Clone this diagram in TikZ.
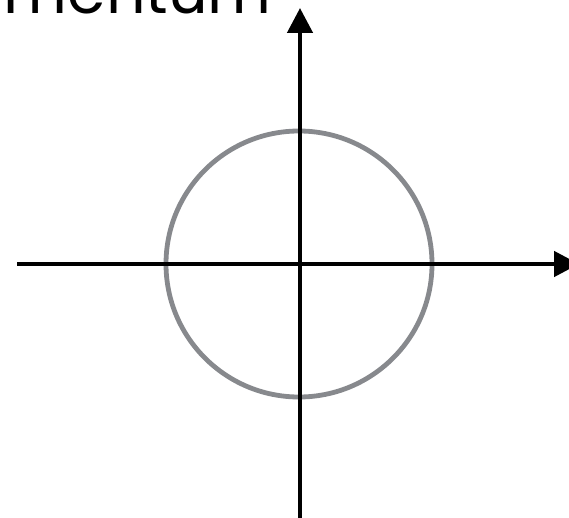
\documentclass[tikz,border=0pt]{standalone}
\usepackage{fontspec}
\setmainfont{Poppins}
\usetikzlibrary{arrows.meta}
\definecolor{ringgray}{HTML}{87898D}
\tikzset{
  axis/.style={line width=4.6pt, draw=black, -{Triangle[length=25pt,width=25pt]}},
  ring/.style={line width=4.8pt, draw=ringgray},
  lbl/.style={font=\fontsize{62}{62}\selectfont, inner sep=0pt, anchor=base east}
}
\begin{document}
\begin{tikzpicture}[x=1pt,y=1pt]
\useasboundingbox (0,0) rectangle (569,517);
\clip (0,0) rectangle (569,517);
\coordinate (o) at (299,253);
\coordinate (ybot) at (300,-5);
\coordinate (ytop) at (300,509);
\coordinate (xleft) at (17,253);
\coordinate (xright) at (579,253);
\draw[ring] (o) circle[radius=133];
\draw[axis] (ybot) -- (ytop);
\draw[axis] (xleft) -- (xright);
\node[lbl] (title) at (272,503) {mentum};
\end{tikzpicture}
\end{document}
